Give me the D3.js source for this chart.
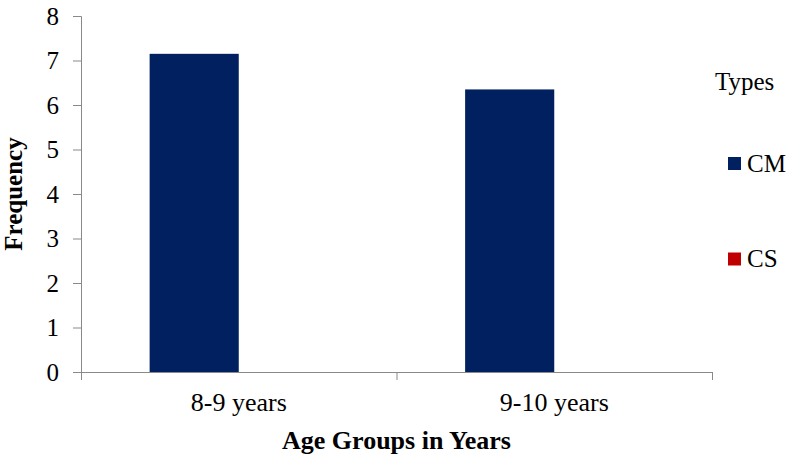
<!DOCTYPE html>
<html>
<head>
<script src="https://cdn.jsdelivr.net/npm/d3@7"></script>
</head>
<body style="margin:0">
<svg id="chart" width="794" height="457"></svg>
<script>
const ageGroups = ["8-9 years", "9-10 years"];
const types = ["CM", "CS"];
const cmValues = [7.15, 6.35];
const csValues = [0, 0];
const yTicks = [0, 1, 2, 3, 4, 5, 6, 7, 8];
const colors = { CM: "#002060", CS: "#C00000" };

const FONT = "Times New Roman";
const width = 794;
const height = 457;
const margin = { top: 16, right: 82, bottom: 85, left: 81 };

const svg = d3.select("#chart");

const chartWidth = width - margin.left - margin.right;
const chartHeight = height - margin.top - margin.bottom;

const g = svg.append("g")
  .attr("transform", `translate(${margin.left},${margin.top})`);

const rows = ageGroups.map((a, i) => ({ group: a, CM: cmValues[i], CS: csValues[i] }));

const x0 = d3.scaleBand()
  .domain(ageGroups)
  .range([0, chartWidth])
  .padding(0);

const x1 = d3.scaleBand()
  .domain(types)
  .range([0, x0.bandwidth()])
  .paddingInner(0)
  .paddingOuter(0.77);

const y = d3.scaleLinear()
  .domain([0, 8])
  .range([chartHeight, 0]);

// bars
g.selectAll(".grp")
  .data(rows)
  .enter().append("g")
  .attr("class", "grp")
  .attr("transform", d => `translate(${x0(d.group)},0)`)
  .selectAll("rect")
  .data(d => types.map(t => ({ type: t, value: d[t] })))
  .enter().append("rect")
  .attr("x", d => x1(d.type))
  .attr("y", d => y(d.value))
  .attr("width", x1.bandwidth())
  .attr("height", d => chartHeight - y(d.value))
  .attr("fill", d => colors[d.type]);

// y axis
const yAxis = g.append("g")
  .call(d3.axisLeft(y).tickValues(yTicks).tickSize(8).tickPadding(14).tickFormat(d3.format("d")));
yAxis.select(".domain").attr("stroke", "#898989").attr("d", `M-8,0.5H0.5V${chartHeight}`);
yAxis.selectAll(".tick line").attr("stroke", "#898989");
yAxis.selectAll("text")
  .attr("fill", "#000")
  .attr("font-family", FONT)
  .attr("font-size", 25);

// x axis: boundary ticks, centered labels
const xAxis = g.append("g")
  .attr("transform", `translate(0,${chartHeight})`);
xAxis.append("line")
  .attr("x1", 0).attr("x2", chartWidth)
  .attr("y1", 0.5).attr("y2", 0.5)
  .attr("stroke", "#898989");
const bounds = ageGroups.map(a => x0(a)).concat([x0(ageGroups[ageGroups.length - 1]) + x0.bandwidth()]);
xAxis.selectAll(".xtick")
  .data(bounds)
  .enter().append("line")
  .attr("x1", d => d + 0.5).attr("x2", d => d + 0.5)
  .attr("y1", 0).attr("y2", 8)
  .attr("stroke", "#898989");
xAxis.selectAll(".xlabel")
  .data(ageGroups)
  .enter().append("text")
  .attr("x", d => x0(d) + x0.bandwidth() / 2)
  .attr("y", 39)
  .attr("text-anchor", "middle")
  .attr("font-family", FONT)
  .attr("font-size", 26)
  .text(d => d);

// axis titles
svg.append("text")
  .attr("x", margin.left + chartWidth / 2)
  .attr("y", 449)
  .attr("text-anchor", "middle")
  .attr("font-family", FONT)
  .attr("font-size", 26)
  .attr("font-weight", "bold")
  .text("Age Groups in Years");

svg.append("text")
  .attr("transform", `translate(22,${margin.top + chartHeight / 2}) rotate(-90)`)
  .attr("text-anchor", "middle")
  .attr("font-family", FONT)
  .attr("font-size", 25)
  .attr("font-weight", "bold")
  .text("Frequency");

// legend
const legend = svg.append("g").attr("transform", "translate(715,0)");
legend.append("text")
  .attr("x", 0)
  .attr("y", 90)
  .attr("font-family", FONT)
  .attr("font-size", 25)
  .text("Types");
const li = legend.selectAll(".li")
  .data(types)
  .enter().append("g")
  .attr("transform", (d, i) => `translate(13,${163.5 + i * 95.5})`);
li.append("rect")
  .attr("x", 0).attr("y", -6.5)
  .attr("width", 13).attr("height", 13)
  .attr("fill", d => colors[d]);
li.append("text")
  .attr("x", 19)
  .attr("y", 8)
  .attr("font-family", FONT)
  .attr("font-size", 25)
  .text(d => d);
</script>
</body>
</html>
